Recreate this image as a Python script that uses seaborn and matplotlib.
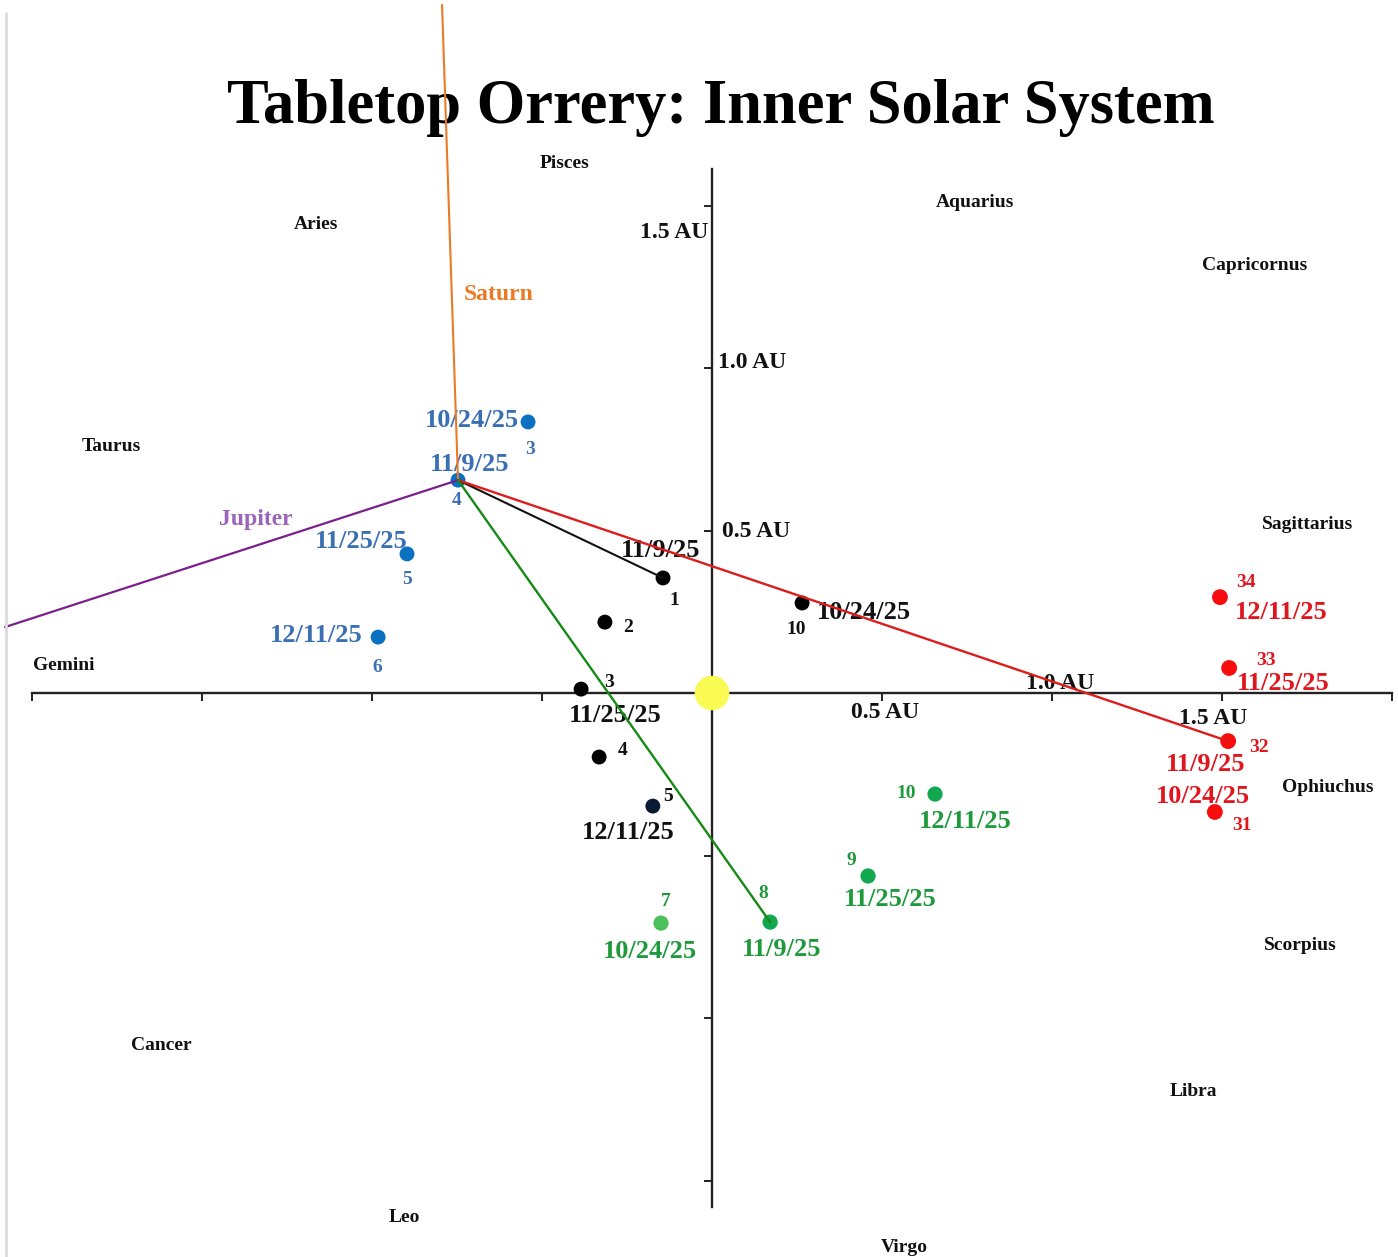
import matplotlib
matplotlib.use("Agg")
import matplotlib.pyplot as plt
from matplotlib.lines import Line2D
import matplotlib.transforms as mtransforms
import seaborn as sns
import pandas as pd

# ---------------- data (AU, sun at origin) ----------------
mercury_x = [-0.144, -0.315, -0.385, -0.332, -0.174, 0.265]
mercury_y = [0.354, 0.218, 0.012, -0.197, -0.348, 0.277]
mercury_num = ["1", "2", "3", "4", "5", "10"]
mercury_date = ["11/9/25", "", "11/25/25", "", "12/11/25", "10/24/25"]

earth_x = [-0.541, -0.747, -0.897, -0.982]
earth_y = [0.834, 0.655, 0.428, 0.172]
earth_num = ["3", "4", "5", "6"]
earth_date = ["10/24/25", "11/9/25", "11/25/25", "12/11/25"]

venus_x = [-0.150, 0.171, 0.459, 0.656]
venus_y = [-0.708, -0.705, -0.563, -0.311]
venus_num = ["7", "8", "9", "10"]
venus_date = ["10/24/25", "11/9/25", "11/25/25", "12/11/25"]

mars_x = [1.479, 1.518, 1.521, 1.494]
mars_y = [-0.366, -0.148, 0.077, 0.295]
mars_num = ["31", "32", "33", "34"]
mars_date = ["10/24/25", "11/9/25", "11/25/25", "12/11/25"]

# sight lines from Earth on 11/9/25
jupiter_dir = (-2.079, 0.203)
saturn_dir = (-0.794, 2.117)

constellations = ["Pisces", "Aries", "Aquarius", "Capricornus", "Taurus", "Sagittarius",
                  "Gemini", "Ophiuchus", "Scorpius", "Cancer", "Libra", "Leo", "Virgo"]
const_x = [-0.435, -1.165, 0.774, 1.597, -1.768, 1.753, -1.906, 1.812, 1.729, -1.621, 1.415, -0.906, 0.565]
const_y = [1.640, 1.452, 1.517, 1.326, 0.769, 0.529, 0.095, -0.280, -0.769, -1.074, -1.218, -1.606, -1.698]

x_ticks = [-2.0, -1.5, -1.0, -0.5, 0.0, 0.5, 1.0, 1.5, 2.0]
y_ticks = [-1.5, -1.0, -0.5, 0.5, 1.0, 1.5]
x_tick_labels = ["0.5 AU", "1.0 AU", "1.5 AU"]
x_tick_label_x = [0.509, 1.024, 1.474]
x_tick_label_y = [-0.052, 0.040, -0.068]
y_tick_labels = ["1.5 AU", "1.0 AU", "0.5 AU"]
y_tick_label_x = [-0.112, 0.118, 0.129]
y_tick_label_y = [1.425, 1.025, 0.505]

# label offsets in pixels (dx, dy screen-down)
mercury_num_off = [(11, 20), (23, 2), (28, -10), (24, -10), (15, -13), (-6, 24)]
mercury_date_off = [(-2, -30), (0, 0), (34, 23), (0, 0), (-25, 23), (62, 7)]
earth_num_off = [(2, 25), (-1, 17), (0, 23), (-1, 27)]
earth_date_off = [(-56, -4), (12, -19), (-46, -15), (-62, -5)]
venus_num_off = [(5, -25), (-7, -32), (-17, -18), (-29, -4)]
venus_date_off = [(-11, 25), (11, 24), (22, 21), (30, 24)]
mars_num_off = [(27, 11), (31, 3), (37, -10), (26, -18)]
mars_date_off = [(-12, -18), (-22, 20), (54, 13), (61, 12)]

# ---------------- style ----------------
sns.set_style("white")
plt.rcParams["font.family"] = ["Liberation Serif", "DejaVu Serif"]
plt.rcParams["font.weight"] = "bold"

fig = plt.figure(figsize=(13.98, 12.57), dpi=100)
ax = fig.add_axes([0, 0, 1, 1])
ax.set_facecolor("white")
ax.set_xlim(-712 / 340, 686 / 340)
ax.set_ylim(-564 / 325, 693 / 325)

TEXT_SHIFT = 3  # px downward for centred labels
txt_trans = mtransforms.offset_copy(ax.transData, fig=fig, x=0, y=-TEXT_SHIFT, units="dots")

# faint frame line at left
fig.add_artist(Line2D([0.0045, 0.0045], [0.0, 0.99], color="#dcdcdc", lw=2, transform=fig.transFigure))

# title
ax.text(0.5155, 1 - 123 / 1257, "Tabletop Orrery: Inner Solar System", transform=ax.transAxes,
        ha="center", va="baseline", fontsize=45, fontweight="bold", color="black", zorder=2)

# sun
sns.scatterplot(x=[0.0], y=[0.0], s=620, color="#fbfb55", edgecolor="none", ax=ax, zorder=6, legend=False)

# sight lines from Earth 11/9/25
ex, ey = earth_x[1], earth_y[1]
lines = [
    ((ex, saturn_dir[0]), (ey, saturn_dir[1]), "#ec7a24", 1.5),
    ((ex, jupiter_dir[0]), (ey, jupiter_dir[1]), "#7b1f8a", 1.6),
    ((ex, mercury_x[0]), (ey, mercury_y[0]), "#111111", 1.5),
    ((ex, mars_x[1]), (ey, mars_y[1]), "#dd1c1c", 1.7),
    ((ex, venus_x[1]), (ey, venus_y[1]), "#158a15", 1.7),
]
for lx, ly, c, lw in lines:
    sns.lineplot(x=list(lx), y=list(ly), sort=False, estimator=None, color=c, lw=lw, ax=ax, zorder=4)

# points
def draw_body(xs, ys, colors, size):
    df = pd.DataFrame({"x": xs, "y": ys})
    sns.scatterplot(data=df, x="x", y="y", c=colors, s=size, edgecolor="none", ax=ax, zorder=3, legend=False)

draw_body(mercury_x, mercury_y, ["black"] * 4 + ["#0b1a33", "black"], 115)
draw_body(earth_x, earth_y, ["#0a70c2"] * 4, 115)
draw_body(venus_x, venus_y, ["#4cc05a", "#12a850", "#12a850", "#12a850"], 120)
draw_body(mars_x, mars_y, ["#f70d0d"] * 4, 130)

def label_body(xs, ys, nums, dates, noff, doff, ncol, dcol):
    for x, y, n, d, no, do in zip(xs, ys, nums, dates, noff, doff):
        ax.annotate(n, (x, y), xytext=(no[0], -no[1] - TEXT_SHIFT), textcoords="offset pixels",
                    ha="center", va="center", fontsize=14, fontweight="bold", color=ncol, zorder=2)
        if d:
            ax.annotate(d, (x, y), xytext=(do[0], -do[1] - TEXT_SHIFT), textcoords="offset pixels",
                        ha="center", va="center", fontsize=19, fontweight="bold", color=dcol, zorder=2)

label_body(mercury_x, mercury_y, mercury_num, mercury_date, mercury_num_off, mercury_date_off, "#111111", "#111111")
label_body(earth_x, earth_y, earth_num, earth_date, earth_num_off, earth_date_off, "#3b6fb4", "#3b6fb4")
label_body(venus_x, venus_y, venus_num, venus_date, venus_num_off, venus_date_off, "#1e9a3c", "#1e9a3c")
label_body(mars_x, mars_y, mars_num, mars_date, mars_num_off, mars_date_off, "#e0161e", "#e0161e")

# planet names for sight lines
ax.text(-0.629, 1.234, "Saturn", ha="center", va="center", fontsize=17, fontweight="bold",
        color="#ec7a24", zorder=2, transform=txt_trans)
ax.text(-1.341, 0.542, "Jupiter", ha="center", va="center", fontsize=17, fontweight="bold",
        color="#9a64b8", zorder=2, transform=txt_trans)

# axis distance labels
for t, x, y in zip(x_tick_labels, x_tick_label_x, x_tick_label_y):
    ax.text(x, y, t, ha="center", va="center", fontsize=17, fontweight="bold", color="#111111",
            zorder=2, transform=txt_trans)
for t, x, y in zip(y_tick_labels, y_tick_label_x, y_tick_label_y):
    ax.text(x, y, t, ha="center", va="center", fontsize=17, fontweight="bold", color="#111111",
            zorder=2, transform=txt_trans)

# constellations
for t, x, y in zip(constellations, const_x, const_y):
    ax.text(x, y, t, ha="center", va="center", fontsize=14, fontweight="bold", color="#111111",
            zorder=2, transform=txt_trans)

# ---------------- axes through the sun ----------------
ax.set_xlim(-712 / 340, 686 / 340)
ax.set_ylim(-564 / 325, 693 / 325)
for s in ["top", "right"]:
    ax.spines[s].set_visible(False)
ax.spines["left"].set_position(("data", 0))
ax.spines["bottom"].set_position(("data", 0))
ax.spines["bottom"].set_bounds(-2.0, 2.0)
ax.spines["left"].set_bounds(-1.582, 1.612)
for s in ["left", "bottom"]:
    ax.spines[s].set_visible(True)
    ax.spines[s].set_linewidth(1.7)
    ax.spines[s].set_color("#222222")
ax.set_xticks(x_ticks)
ax.set_yticks(y_ticks)
ax.set_xticklabels([])
ax.set_yticklabels([])
ax.tick_params(axis="both", which="major", bottom=True, left=True, top=False, right=False,
               direction="out", length=5.5, width=1.4, color="#222222")
ax.set_xlabel("")
ax.set_ylabel("")

fig.savefig("out.png", dpi=100, facecolor="white")
